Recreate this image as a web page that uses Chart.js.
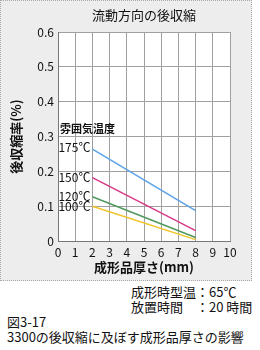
<!DOCTYPE html>
<html>
<head>
  <script src="https://cdn.jsdelivr.net/npm/chart.js"></script>
  <style>
    body { margin: 0; width: 260px; height: 350px; background: #fff; font-family: "Noto Sans CJK JP", sans-serif; position: relative; }
    #panel { position: absolute; left: 0; top: 0; width: 250px; height: 279px; background: #ededed; border: 1px dotted #a8a8a8; }
    .note { position: absolute; font-size: 13px; color: #111; white-space: nowrap; line-height: 15px; }
  </style>
</head>
<body>
  <div id="panel"><canvas id="c" width="250" height="279"></canvas></div>
  <div class="note" style="left:131px; top:284px;">成形時型温：65℃</div>
  <div class="note" style="left:131px; top:299px;">放置時間　：20 時間</div>
  <div class="note" style="left:7px; top:314px;">図3-17</div>
  <div class="note" style="left:7px; top:329px;">3300の後収縮に及ぼす成形品厚さの影響</div>
  <script>
    // data
    const thickness = [2, 8];
    const temps = ['175℃', '150℃', '120℃', '100℃'];
    const s175 = [0.264, 0.087];
    const s150 = [0.182, 0.030];
    const s120 = [0.127, 0.010];
    const s100 = [0.100, 0.004];
    const colors = ['#5ba3e8', '#d8388a', '#4f9a5e', '#f0c428'];
    const xTicks = [0, 1, 2, 3, 4, 5, 6, 7, 8, 9, 10];
    const yTicks = [0, 0.1, 0.2, 0.3, 0.4, 0.5, 0.6];

    const series = [s175, s150, s120, s100];
    const FONT = '"Noto Sans CJK JP", sans-serif';

    // white plot area inside the gray panel
    const bgPlugin = {
      id: 'plotBg',
      beforeDraw(chart) {
        const { ctx, chartArea: a } = chart;
        ctx.save();
        ctx.fillStyle = '#fff';
        ctx.fillRect(a.left, a.top, a.right - a.left, a.bottom - a.top);
        ctx.restore();
      }
    };

    const textPlugin = {
      id: 'texts',
      afterDraw(chart) {
        const { ctx, chartArea, scales } = chart;
        ctx.save();
        ctx.fillStyle = '#111';
        // title
        ctx.font = '13px ' + FONT;
        ctx.textAlign = 'center';
        ctx.textBaseline = 'middle';
        ctx.fillText('流動方向の後収縮', (chartArea.left + chartArea.right) / 2, 14);
        // x title
        ctx.font = 'bold 13px ' + FONT;
        ctx.fillText('成形品厚さ(mm)', (chartArea.left + chartArea.right) / 2, 266);
        // y title
        ctx.save();
        ctx.translate(15, (chartArea.top + chartArea.bottom) / 2);
        ctx.rotate(-Math.PI / 2);
        ctx.fillText('後収縮率(%)', 0, 0);
        ctx.restore();
        // legend heading
        ctx.font = 'bold 11px ' + FONT;
        ctx.textAlign = 'left';
        ctx.fillText('雰囲気温度', 59, 128);
        // series labels
        ctx.font = '12px ' + FONT;
        ctx.textAlign = 'right';
        const x = scales.x.getPixelForValue(thickness[0]) - 2;
        series.forEach((s, i) => {
          ctx.fillText(temps[i], x, scales.y.getPixelForValue(s[0]) - (i === 0 ? 2 : 0));
        });
        ctx.restore();
      }
    };

    new Chart(document.getElementById('c'), {
      type: 'line',
      data: {
        datasets: series.map((s, i) => ({
          label: temps[i],
          data: thickness.map((t, j) => ({ x: t, y: s[j] })),
          borderColor: colors[i],
          borderWidth: 1.5,
          pointRadius: 0,
          fill: false
        }))
      },
      options: {
        responsive: false,
        animation: false,
        layout: { padding: { left: 0, right: 21, top: 31, bottom: 0 } },
        plugins: { legend: { display: false }, tooltip: { enabled: false } },
        scales: {
          x: {
            type: 'linear', min: 0, max: 10,
            afterFit(s) { s.height = 39; },
            afterBuildTicks(s) { s.ticks = xTicks.map(v => ({ value: v })); },
            ticks: { color: '#111', font: { family: FONT, size: 12 }, padding: 4,
              autoSkip: false, maxRotation: 0, minRotation: 0 },
            grid: { color: '#a0a0a0', drawTicks: false },
            border: { color: '#777' }
          },
          y: {
            min: 0, max: 0.6,
            afterFit(s) { s.width = 57; },
            afterBuildTicks(s) { s.ticks = yTicks.map(v => ({ value: v })); },
            ticks: { color: '#111', font: { family: FONT, size: 12 }, padding: 4,
              callback: v => v === 0 ? '0' : v.toFixed(1) },
            grid: { color: '#a0a0a0', drawTicks: false },
            border: { color: '#777' }
          }
        }
      },
      plugins: [bgPlugin, textPlugin]
    });
  </script>
</body>
</html>
